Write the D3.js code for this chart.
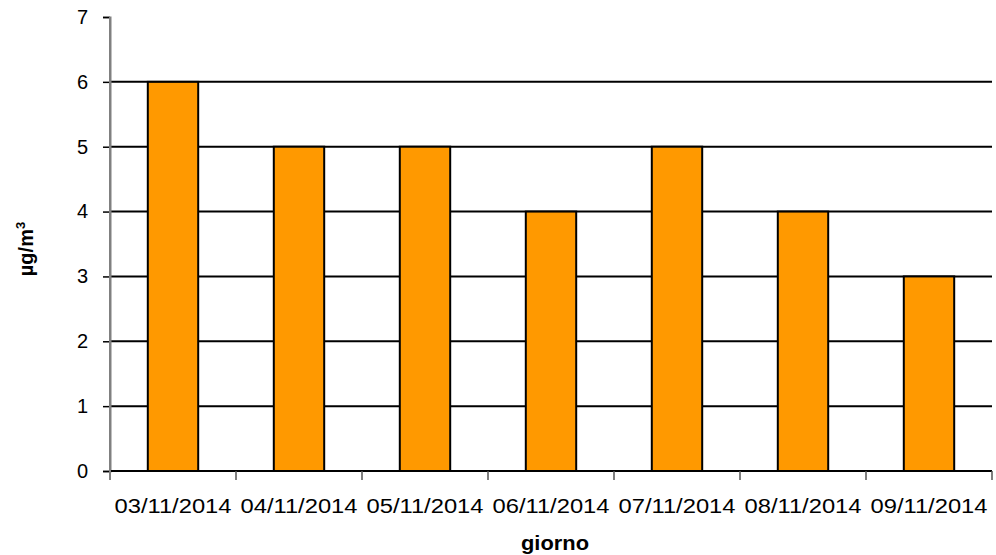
<!DOCTYPE html>
<html><head><meta charset="utf-8">
<script src="https://cdn.jsdelivr.net/npm/d3@7"></script>
<style>body{margin:0;background:#fff}</style>
</head><body>
<svg id="c" width="996" height="555"></svg>
<script>
const categories = ["03/11/2014","04/11/2014","05/11/2014","06/11/2014","07/11/2014","08/11/2014","09/11/2014"];
const values = [6,5,5,4,5,4,3];
const yTicks = [0,1,2,3,4,5,6,7];

const svg = d3.select("#c");
const L = 110, R = 992, T = 17, B = 471;
const x = d3.scaleBand().domain(categories).range([L,R]).paddingInner(0.6).paddingOuter(0.3);
const y = d3.scaleLinear().domain([0,7]).range([B,T]);
const font = "'Liberation Sans', Arial, sans-serif";

// gridlines
svg.append("g").selectAll("line").data(yTicks.filter(d=>d>0 && d<7)).join("line")
  .attr("x1",L).attr("x2",R).attr("y1",d=>y(d)).attr("y2",d=>y(d))
  .attr("stroke","#000").attr("stroke-width",2);

// bars
svg.append("g").selectAll("rect").data(values).join("rect")
  .attr("x",(d,i)=>x(categories[i])).attr("width",x.bandwidth())
  .attr("y",d=>y(d)).attr("height",d=>B-y(d))
  .attr("fill","#FF9900").attr("stroke","#000").attr("stroke-width",2);

// y axis
const ya = d3.axisLeft(y).tickValues(yTicks).tickSize(7).tickPadding(15).tickFormat(d3.format("d"));
const gy = svg.append("g").attr("transform",`translate(${L},0)`).call(ya);
gy.select(".domain").attr("stroke","#808080").attr("stroke-width",2);
gy.selectAll(".tick line").attr("stroke","#000").attr("stroke-width",1.5);
gy.selectAll("text").attr("font-family",font).attr("font-size",20).attr("fill","#000");

// x axis
const bounds = d3.range(categories.length+1).map(i=>L+i*(R-L)/categories.length);
const gx = svg.append("g");
gx.append("line").attr("x1",L).attr("x2",R).attr("y1",B).attr("y2",B).attr("stroke","#000").attr("stroke-width",2);
gx.selectAll("line.t").data(bounds).join("line").attr("class","t")
  .attr("x1",d=>d).attr("x2",d=>d).attr("y1",B).attr("y2",B+9)
  .attr("stroke","#555").attr("stroke-width",1.5);
gx.selectAll("text").data(categories).join("text")
  .attr("x",d=>x(d)+x.bandwidth()/2).attr("y",513)
  .attr("text-anchor","middle").attr("font-family",font).attr("font-size",20)
  .attr("textLength",117).attr("lengthAdjust","spacingAndGlyphs")
  .attr("fill","#000").text(d=>d);
// spine on top
svg.append("line").attr("x1",L).attr("x2",L).attr("y1",T).attr("y2",B+9).attr("stroke","#808080").attr("stroke-width",2);

// axis titles
svg.append("text").attr("x",(L+R)/2+4).attr("y",550).attr("text-anchor","middle")
  .attr("font-family",font).attr("font-weight","bold").attr("font-size",20)
  .attr("textLength",68).attr("lengthAdjust","spacingAndGlyphs").text("giorno");
const yl = svg.append("text").attr("transform","translate(33,249) rotate(-90)").attr("text-anchor","middle")
  .attr("font-family",font).attr("font-weight","bold").attr("font-size",20);
yl.append("tspan").text("µg/m");
yl.append("tspan").attr("dy",-8).attr("font-size",13).text("3");
</script>
</body></html>
